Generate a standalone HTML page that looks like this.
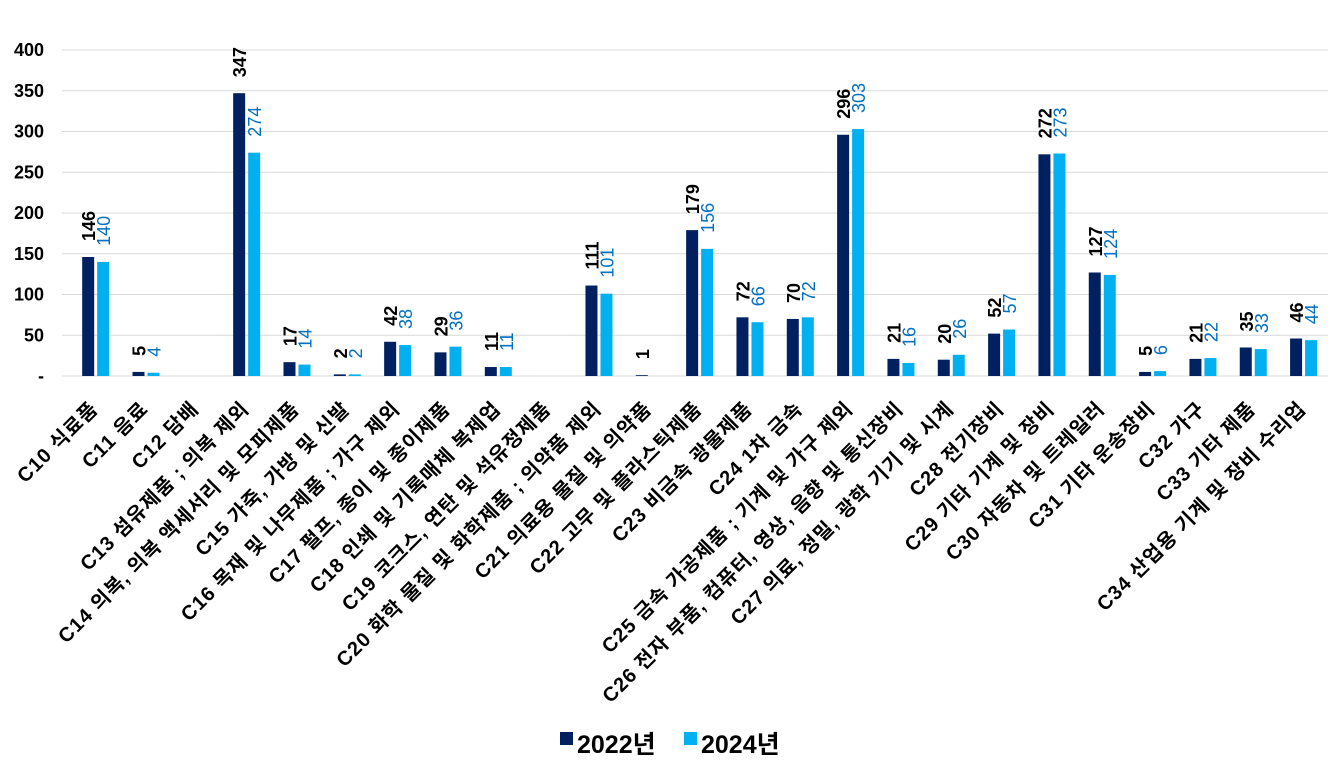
<!DOCTYPE html>
<html><head><meta charset="utf-8"><style>
body{margin:0;background:#fff}
svg{display:block;font-family:"Liberation Sans","Noto Sans CJK KR",sans-serif}
</style></head><body>
<svg width="1343" height="763" viewBox="0 0 1343 763" xmlns="http://www.w3.org/2000/svg">
<g id="grid" stroke="#d9d9d9" stroke-width="1"></g>
<g id="yl" font-size="18" font-weight="bold" fill="#000" text-anchor="end"></g>
<g id="bars"></g>
<g id="xl" font-size="20" font-weight="bold" fill="#000" text-anchor="end" letter-spacing="1"></g>
<g font-size="25" font-weight="bold">
<rect x="560" y="732" width="13" height="13" fill="#002060"/>
<text x="577" y="753">2022년</text>
<rect x="684" y="732" width="13" height="13" fill="#00b0f0"/>
<text x="701" y="753">2024년</text>
</g>
<script>
const ns="http://www.w3.org/2000/svg";
function el(p,t,a,txt){const e=document.createElementNS(ns,t);for(const k in a)e.setAttribute(k,a[k]);if(txt!=null)e.textContent=txt;document.getElementById(p).appendChild(e);}
const base=376,k=0.815;
for(let v=0;v<=400;v+=50){const y=base-v*k;el('grid','line',{x1:62,x2:1328,y1:y,y2:y});el('yl','text',{x:44,y:y+6},v==0?'-':v);}
const cats=["C10 식료품","C11 음료","C12 담배","C13 섬유제품 ; 의복 제외","C14 의복, 의복 액세서리 및 모피제품","C15 가죽, 가방 및 신발","C16 목재 및 나무제품 ; 가구 제외","C17 펄프, 종이 및 종이제품","C18 인쇄 및 기록매체 복제업","C19 코크스, 연탄 및 석유정제품","C20 화학 물질 및 화학제품 ; 의약품 제외","C21 의료용 물질 및 의약품","C22 고무 및 플라스틱제품","C23 비금속 광물제품","C24 1차 금속","C25 금속 가공제품 ; 기계 및 가구 제외","C26 전자 부품, 컴퓨터, 영상, 음향 및 통신장비","C27 의료, 정밀, 광학 기기 및 시계","C28 전기장비","C29 기타 기계 및 장비","C30 자동차 및 트레일러","C31 기타 운송장비","C32 가구","C33 기타 제품","C34 산업용 기계 및 장비 수리업"];
const a=[146,5,null,347,17,2,42,29,11,null,111,1,179,72,70,296,21,20,52,272,127,5,21,35,46];
const b=[140,4,null,274,14,2,38,36,11,null,101,null,156,66,72,303,16,26,57,273,124,6,22,33,44];
cats.forEach((c,i)=>{const cx=70+25.17+i*50.33;
 [[a[i],cx-13,'#002060','#000','bold'],[b[i],cx+2,'#00b0f0','#0070c0','normal']].forEach(([v,x,col,tc,fw])=>{
  if(v==null)return;const h=v*k;
  el('bars','rect',{x:x,y:base-h,width:12,height:h,fill:col});
  el('bars','text',{transform:`translate(${x+13},${base-h-16}) rotate(-90)`,'font-size':18,'font-weight':fw,fill:tc},v);
 });
 el('xl','text',{transform:`translate(${cx+4},${410}) rotate(-45)`},c);
});
</script>
</svg>
</body></html>
